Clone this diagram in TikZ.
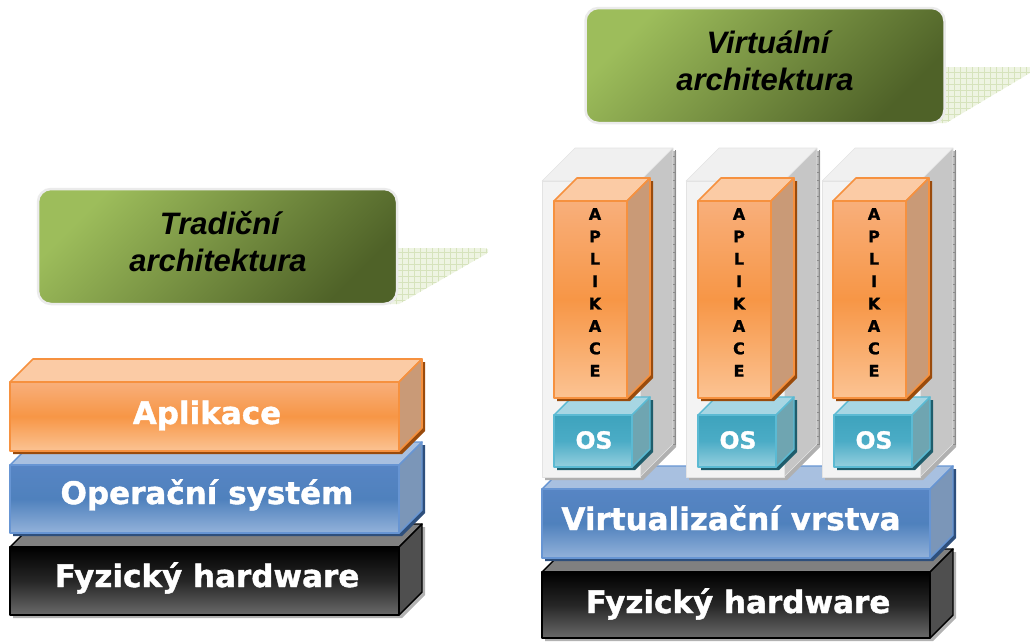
\documentclass[tikz,border=0pt]{standalone}
\usepackage{fontspec}
\newfontfamily\layerfont{DejaVu Sans}[BoldFeatures={FakeBold=1.3}]
\newfontfamily\titlefont{Liberation Sans}
\usetikzlibrary{calc}

% layer colours
\definecolor{appA}{HTML}{F8AF7B}
\definecolor{appB}{HTML}{F79646}
\definecolor{appC}{HTML}{FBC393}
\definecolor{appTop}{HTML}{FBCBA5}
\definecolor{appSide}{HTML}{C99A77}
\definecolor{appEdge}{HTML}{F6913F}
\definecolor{appShadow}{HTML}{9A4B0C}
\definecolor{osA}{HTML}{5785C4}
\definecolor{osB}{HTML}{4F81BD}
\definecolor{osC}{HTML}{93B2DA}
\definecolor{osTop}{HTML}{A8C0E0}
\definecolor{osSide}{HTML}{7B96B8}
\definecolor{osEdge}{HTML}{6795D3}
\definecolor{osShadow}{HTML}{2E4F7C}
\definecolor{hwTop}{HTML}{808080}
\definecolor{hwSide}{HTML}{4F4F4F}
\definecolor{hwC}{HTML}{6A6A6A}
\definecolor{tlA}{HTML}{3EA3BD}
\definecolor{tlB}{HTML}{4BACC6}
\definecolor{tlC}{HTML}{95CFDE}
\definecolor{tlTop}{HTML}{A7D6E3}
\definecolor{tlSide}{HTML}{6FA5B1}
\definecolor{tlEdge}{HTML}{5BBAD3}
\definecolor{tlShadow}{HTML}{1F5D6C}
\definecolor{vmFront}{HTML}{F3F3F3}
\definecolor{vmTop}{HTML}{F0F0F0}
\definecolor{vmSide}{HTML}{C6C6C6}
\definecolor{vmEdge}{HTML}{E3E3E3}
\definecolor{vmShadow}{HTML}{B0B0B0}
\definecolor{gA}{HTML}{9DBD5B}
\definecolor{gB}{HTML}{4F6228}
\definecolor{tailFill}{HTML}{EEF4E2}
\definecolor{tailGrid}{HTML}{D6E3BC}

% a cuboid seen from the front-right: front x1 y1 x2 y2, depth, style prefix
\newcommand\slab[6]{%
  \fill[#6shadow] (#1+3,#2+3) -- (#1+#5+3,#2-#5+3) -- (#3+#5+3,#2-#5+3)
        -- (#3+#5+3,#4-#5+3) -- (#3+3,#4+3) -- (#1+3,#4+3) -- cycle;
  \path[#6top] (#1,#2) -- (#1+#5,#2-#5) -- (#3+#5,#2-#5) -- (#3,#2) -- cycle;
  \path[#6side] (#3,#2) -- (#3+#5,#2-#5) -- (#3+#5,#4-#5) -- (#3,#4) -- cycle;
  \path[#6front] (#1,#2) rectangle (#3,#4);
}

\tikzset{
  appshadow/.style={fill=appShadow},
  apptop/.style={fill=appTop, draw=appEdge, line width=1.6pt},
  appside/.style={fill=appSide, draw=appEdge, line width=1.6pt},
  appfront/.style={top color=appA, bottom color=appC, middle color=appB, draw=appEdge, line width=1.6pt},
  osshadow/.style={fill=osShadow},
  ostop/.style={fill=osTop, draw=osEdge, line width=1.4pt},
  osside/.style={fill=osSide, draw=osEdge, line width=1.4pt},
  osfront/.style={top color=osA, bottom color=osC, middle color=osB, draw=osEdge, line width=1.4pt},
  hwshadow/.style={fill=black!30},
  hwtop/.style={fill=hwTop, draw=black, line width=1.4pt},
  hwside/.style={fill=hwSide, draw=black, line width=1.4pt},
  hwfront/.style={top color=black, bottom color=hwC, middle color=black!85, draw=black, line width=1.4pt},
  tlshadow/.style={fill=tlShadow},
  tltop/.style={fill=tlTop, draw=tlEdge, line width=1.4pt},
  tlside/.style={fill=tlSide, draw=tlEdge, line width=1.4pt},
  tlfront/.style={top color=tlA, bottom color=tlC, middle color=tlB, draw=tlEdge, line width=1.4pt},
  vmshadow/.style={fill=vmShadow},
  vmtop/.style={fill=vmTop, draw=vmEdge, line width=0.6pt},
  vmside/.style={fill=vmSide, draw=vmEdge, line width=0.6pt},
  vmfront/.style={fill=vmFront, draw=vmEdge, line width=0.6pt},
  vmtick/.style={draw=black!45, line width=0.5pt},
  layertext/.style={text=white, font=\layerfont\bfseries\fontsize{31}{37}\selectfont, anchor=base, inner sep=0pt},
  titletext/.style={text=black, font=\titlefont\bfseries\itshape\fontsize{31}{37}\selectfont, anchor=base, inner sep=0pt},
  titlebox/.style={rounded corners=13pt, top color=gA, bottom color=gB, shading angle=45,
                   draw=black!8, line width=2.5pt, minimum width=359pt, minimum height=115pt, inner sep=0pt},
  letter/.style={text=black, font=\layerfont\bfseries\fontsize{16}{18}\selectfont, inner sep=0pt},
  ostext/.style={text=white, font=\layerfont\bfseries\fontsize{23.5}{26}\selectfont, inner sep=0pt},
  tailfill/.style={fill=tailFill},
  tailgrid/.style={draw=tailGrid, line width=0.4pt},
}

\begin{document}
\begin{tikzpicture}[x=1pt, y=-1pt, line join=round]
\useasboundingbox (0,0) rectangle (1030,641);

% speech-ribbon tails behind the captions
\begin{scope}
  \clip (388,248) -- (483,248) .. controls (489,248) and (490,251) .. (486,254) -- (399,304) -- (388,304) -- cycle;
  \fill[tailfill] (380,240) rectangle (500,310);
  \draw[tailgrid, step=6pt] (380,310) grid (500,240);
\end{scope}
\begin{scope}
  \clip (936,67) -- (1030,67) -- (1030,73) -- (946,123) -- (936,123) -- cycle;
  \fill[tailfill] (930,60) rectangle (1030,130);
  \draw[tailgrid, step=6pt] (930,130) grid (1030,60);
\end{scope}

% captions
\node[titlebox] (tradbox) at (217.5,246.5) {};
\node[titletext] (trad1) at (220,234) {Tradiční};
\node[titletext] (trad2) at (218,271) {architektura};
\node[titlebox] (virtbox) at (765,65.5) {};
\node[titletext] (virt1) at (768,53) {Virtuální};
\node[titletext] (virt2) at (765,90) {architektura};

% traditional stack
\slab{10}{547}{399}{615}{23}{hw}
\slab{10}{465}{399}{533}{23}{os}
\slab{10}{382}{399}{451}{23}{app}
\node[layertext] (lapp) at (207,424) {Aplikace};
\node[layertext] (los) at (207,504) {Operační systém};
\node[layertext] (lhw) at (207,587) {Fyzický hardware};

% virtualised stack
\slab{542}{572}{930}{638}{23}{hw}
\slab{542}{489}{930}{558}{23}{os}
\node[layertext] (rvirt) at (731,530) {Virtualizační vrstva};
\node[layertext] (rhw) at (738,613) {Fyzický hardware};

% virtual machines
\foreach \cx/\ax/\ox/\k in {542/554/554/1, 686/698/698/2, 822/833/834/3}{
  \slab{\cx}{181}{\cx+98}{477}{33}{vm}
  \draw[vmtick] (\cx+98+35,150) -- (\cx+98+35,445);
  \foreach \t in {156,164,...,444}
    \draw[vmtick] (\cx+98+33,\t) -- (\cx+98+36,\t);
  \slab{\ox}{415}{\ox+78}{467}{18}{tl}
  \slab{\ax}{201}{\ax+73}{398}{23}{app}
  \node[ostext] (os\k) at (\ox+40,440) {OS};
  \foreach \ch [count=\i from 0] in {A,P,L,I,K,A,C,E}
    \node[letter] (app\k-\i) at (\ax+41,214+\i*22.4) {\ch};
}
\end{tikzpicture}
\end{document}
